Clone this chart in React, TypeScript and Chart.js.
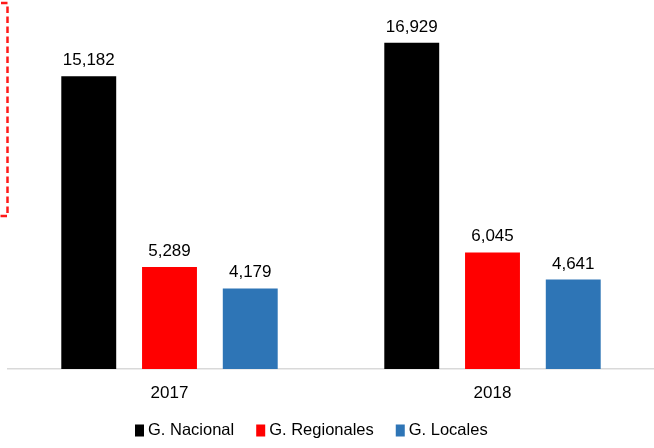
import React, { useEffect, useRef } from "react";
import { Chart, registerables } from "chart.js";

Chart.register(...registerables);

const categories = ["2017", "2018"];
const seriesNames = ["G. Nacional", "G. Regionales", "G. Locales"];
const nacional = [15182, 16929];
const regionales = [5289, 6045];
const locales = [4179, 4641];
const seriesColors = ["#000000", "#FF0000", "#2E75B6"];
const yMax = 18000;

const FONT = '"Liberation Sans", Arial, sans-serif';

const dataLabelPlugin = {
  id: "dataLabels",
  afterDatasetsDraw(chart: any) {
    const ctx = chart.ctx;
    ctx.save();
    ctx.font = `17px ${FONT}`;
    ctx.fillStyle = "#000000";
    ctx.textAlign = "center";
    ctx.textBaseline = "alphabetic";
    chart.data.datasets.forEach((ds: any, i: number) => {
      const meta = chart.getDatasetMeta(i);
      meta.data.forEach((bar: any, j: number) => {
        const v = ds.data[j] as number;
        ctx.fillText(v.toLocaleString("en-US"), bar.x, bar.y - 11);
      });
    });
    ctx.restore();
  },
};

const legendPlugin = {
  id: "customLegend",
  afterDraw(chart: any) {
    const ctx = chart.ctx;
    ctx.save();
    ctx.font = `16.5px ${FONT}`;
    ctx.textBaseline = "middle";
    ctx.textAlign = "left";
    let x = 135;
    const yc = 430.5;
    chart.data.datasets.forEach((ds: any) => {
      ctx.fillStyle = ds.backgroundColor;
      ctx.fillRect(x, yc - 6, 9, 12);
      ctx.fillStyle = "#000000";
      ctx.fillText(ds.label, x + 13, yc);
      x += 13 + ctx.measureText(ds.label).width + 22;
    });
    ctx.restore();
  },
};

const framePlugin = {
  id: "dashedFrame",
  afterDraw(chart: any) {
    const ctx = chart.ctx;
    ctx.save();
    ctx.strokeStyle = "rgba(255,0,0,0.9)";
    ctx.lineWidth = 2.5;
    ctx.setLineDash([6.5, 3.5]);
    ctx.beginPath();
    ctx.moveTo(1, 3);
    ctx.lineTo(7.5, 3);
    ctx.lineTo(7.5, 216);
    ctx.lineTo(0, 216);
    ctx.stroke();
    ctx.restore();
  },
};

export default function App() {
  const ref = useRef<HTMLCanvasElement | null>(null);

  useEffect(() => {
    if (!ref.current) return;
    const seriesData = [nacional, regionales, locales];
    const chart = new Chart(ref.current, {
      type: "bar",
      data: {
        labels: categories,
        datasets: seriesNames.map((name, i) => ({
          label: name,
          data: seriesData[i],
          backgroundColor: seriesColors[i],
          borderWidth: 0,
          categoryPercentage: 0.75,
          barPercentage: 0.68,
        })),
      },
      options: {
        animation: false,
        responsive: false,
        maintainAspectRatio: false,
        layout: { padding: { left: 8, right: 0, top: 22, bottom: 39 } },
        plugins: {
          legend: { display: false },
          tooltip: { enabled: false },
        },
        scales: {
          x: {
            grid: { display: false, drawTicks: false },
            border: { display: true, color: "#D9D9D9", width: 1.5 },
            ticks: {
              color: "#000000",
              font: { family: FONT, size: 17 },
              padding: 14,
            },
            afterFit: (scale: any) => {
              scale.height = 40;
            },
          },
          y: {
            display: false,
            min: 0,
            max: yMax,
          },
        },
      },
      plugins: [dataLabelPlugin, legendPlugin, framePlugin],
    });
    return () => chart.destroy();
  }, []);

  return (
    <div style={{ position: "fixed", left: 0, top: 0, width: 654, height: 448, background: "#ffffff" }}>
      <canvas ref={ref} width={654} height={448} style={{ width: 654, height: 448, display: "block" }} />
    </div>
  );
}
